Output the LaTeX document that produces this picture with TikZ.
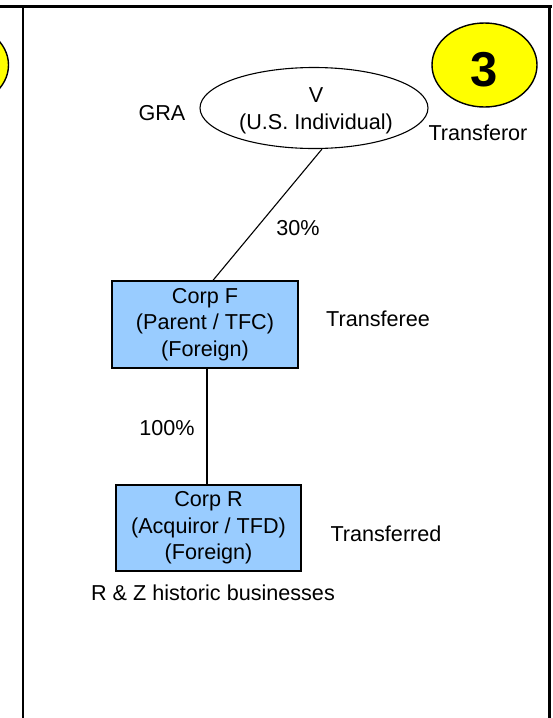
\documentclass[tikz,border=0pt]{standalone}
\usepackage{fontspec}
\setmainfont{Liberation Sans}
\usetikzlibrary{shapes.geometric}
\definecolor{boxblue}{HTML}{99CCFF}
\definecolor{tagyellow}{HTML}{FFFF00}
\begin{document}
\begin{tikzpicture}[x=1pt,y=-1pt,
  every node/.style={font=\fontsize{21.6}{26.5}\selectfont, inner sep=0pt},
  entity/.style={draw, fill=boxblue, line width=1.3pt, minimum width=186pt, minimum height=87pt, align=center},
  person/.style={draw, ellipse, line width=1.1pt, minimum width=228pt, minimum height=81pt},
  tag/.style={draw, ellipse, fill=tagyellow, line width=1.4pt, minimum width=105pt, minimum height=84pt},
  tagnum/.style={font=\fontsize{49}{50}\selectfont\bfseries},
  frame/.style={line width=2.5pt},
  link/.style={line width=1.1pt}]
\useasboundingbox (0,0) rectangle (552,718);
\begin{scope}
\clip (0,0) rectangle (552,718);
\node[tag] (prev) at (-44,65) {};
\end{scope}
% frame
\coordinate (tl) at (0,6.5);
\coordinate (tr) at (552,6.5);
\coordinate (l1) at (23,6.5);
\coordinate (l2) at (23,718);
\coordinate (r1) at (549.5,6.5);
\coordinate (r2) at (549.5,718);
\draw[frame] (tl) -- (tr);
\draw[frame] (l1) -- (l2);
\draw[frame] (r1) -- (r2);
% tag 3
\node[tag] (three) at (484.5,65) {};
\node[tagnum] (threetext) at (484.5,70) {3};
% nodes
\node[person] (V) at (314,108) {};
\node[align=center] (Vtext) at (316,111) {V\\(U.S. Individual)};
\node[entity] (F) at (205,324.5) {Corp F\\(Parent / TFC)\\(Foreign)};
\node[entity, minimum width=185pt, minimum height=86pt] (R) at (208.5,528) {Corp R\\(Acquiror / TFD)\\(Foreign)};
% labels
\node (gra) at (162,113) {GRA};
\node (tor) at (478,133) {Transferor};
\node (p30) at (298,228) {30\%};
\node (tee) at (378,319) {Transferee};
\node (p100) at (167,428) {100\%};
\node (tred) at (386,534) {Transferred};
\node (hist) at (213,593) {R \& Z historic businesses};
% connectors
\draw[link] ([xshift=8pt]V.south) -- ([xshift=8pt]F.north);
\draw[link] ([xshift=2pt]F.south) -- ([xshift=-1.5pt]R.north);
\end{tikzpicture}
\end{document}
